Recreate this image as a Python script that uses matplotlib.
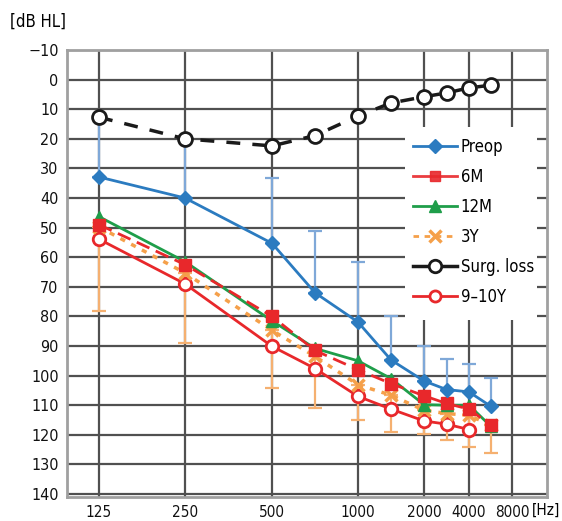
import numpy as np
import matplotlib
matplotlib.use("Agg")
import matplotlib.pyplot as plt
from matplotlib.lines import Line2D
from matplotlib.patches import Rectangle

plt.rcParams['font.family'] = ['DejaVu Sans']
plt.rcParams['font.stretch'] = 'condensed'

# frequencies (Hz)
freq = [125, 250, 500, 750, 1000, 1500, 2000, 3000, 4000, 6000]
tick_freq = [125, 250, 500, 1000, 2000, 4000, 8000]
tick_lab = ["125", "250", "500", "1000", "2000", "4000", "8000"]

# hearing levels (dB HL)
preop = [32.9, 40, 55.3, 72, 81.9, 94.7, 101.8, 104.7, 105.5, 110.3]
preop_top = [13, 20, 33.2, 51.3, 61.5, 79.9, 90.1, 94.5, 96, 100.8]
m6 = [49, 62.5, 80, 91.5, 98, 102.7, 106.8, 109.4, 111.3, 116.7]
m12 = [46.3, 61.5, 81.5, 90.8, 95, 101, 109.8, 110, 110, 117]
y3 = [49.8, 65.3, 84.7, 93.5, 103.1, 106.6, 111.7, 112.8, 113.4, 116.7]
y3_bot = [78.2, 88.9, 104.1, 110.9, 115, 119, 119.7, 121.8, 124, 126.3]
surg = [12.7, 20, 22.4, 18.9, 12.3, 7.9, 5.8, 4.5, 2.8, 1.9]
y910 = [53.9, 69, 90.1, 97.6, 107, 111.3, 115.3, 116.4, 118.2, np.nan]

# x scale: piecewise linear between audiogram frequencies
anc_f = [100, 125, 250, 500, 1000, 2000, 4000, 8000, 9500]
anc_p = [67, 99, 185, 272, 358, 424, 469, 512, 547]
def fwd(f):
    return np.interp(f, anc_f, anc_p)
def inv(p):
    return np.interp(p, anc_p, anc_f)

fig = plt.figure(figsize=(5.62, 5.21), dpi=100)
ax = fig.add_axes([67/562, 1-497/521, 480/562, 447/521])
ax.set_xscale('function', functions=(fwd, inv))
ax.set_xlim(100, 9500)
ax.set_ylim(141, -10)

ax.set_yticks(np.arange(-10, 141, 10))
ax.set_yticklabels([str(v).replace('-', '\u2212') for v in range(-10, 141, 10)])
ax.set_xticks(tick_freq)
ax.set_xticklabels(tick_lab)
ax.xaxis.set_minor_locator(matplotlib.ticker.NullLocator())
ax.tick_params(length=0, labelsize=11.5, pad=6, colors='#111111')
ax.tick_params(axis='x', labelsize=11)
ax.grid(True, color='#505050', lw=1.6)
ax.set_axisbelow(True)
for s in ax.spines.values():
    s.set_color('#a0a0a0')
    s.set_linewidth(2)

# white legend area
ax.add_patch(Rectangle((0.704, 0.396), 0.275, 0.432, transform=ax.transAxes,
                       facecolor='white', edgecolor='none', zorder=1))

fr = np.array(freq)
pre = np.array(preop)
ax.errorbar(fr, pre, yerr=[pre - np.array(preop_top), np.zeros(len(fr))],
            fmt='none', ecolor='#7fa8d8', elinewidth=1.6, capsize=5, capthick=1.6, zorder=2)
y3a = np.array(y3)
ax.errorbar(fr, y3a, yerr=[np.zeros(len(fr)), np.array(y3_bot) - y3a],
            fmt='none', ecolor='#f5b070', elinewidth=1.6, capsize=5, capthick=1.6, zorder=2)

ax.plot(freq, y910, color='#e8282b', lw=2, marker='o', ms=9, mfc='white',
        mec='#e8282b', mew=2, zorder=3)
ax.plot(freq, y3, color='#f5a04a', lw=2.5, ls=(0, (1.5, 2)), marker='x', ms=8,
        mew=2.5, zorder=4)
ax.plot(freq, m12, color='#1f9e4a', lw=2, marker='^', ms=8.5, zorder=5)
ax.plot(freq, m6, color='#e8282b', lw=2, ls=(0, (5, 2.5)), marker='s', ms=8, zorder=6)
ax.plot(freq, preop, color='#2b7bc0', lw=2, marker='D', ms=7.5, zorder=7)
ax.plot(freq, surg, color='#1a1a1a', lw=2.5, ls=(0, (4, 3.5)), marker='o', ms=10,
        mfc='white', mec='#1a1a1a', mew=2, zorder=8)

handles = [
    Line2D([], [], color='#2b7bc0', lw=2, marker='D', ms=7.5),
    Line2D([], [], color='#e8282b', lw=2, marker='s', ms=7.5, alpha=0.9),
    Line2D([], [], color='#1f9e4a', lw=2, marker='^', ms=8.5),
    Line2D([], [], color='#f5a04a', lw=2, ls=(0, (2, 2)), marker='x', ms=8, mew=2.5),
    Line2D([], [], color='#1a1a1a', lw=2.5, marker='o', ms=9, mfc='white', mew=2),
    Line2D([], [], color='#e8282b', lw=2, marker='o', ms=8, mfc='white', mew=2),
]
labels = ["Preop", "6M", "12M", "3Y", "Surg. loss", "9\u201310Y"]
leg = ax.legend(handles, labels, loc='upper left', bbox_to_anchor=(0.704, 0.822),
                frameon=False, fontsize=12, handlelength=2.6, handletextpad=0.25,
                labelspacing=0.72, borderpad=0.5, borderaxespad=0)
leg.set_zorder(10)

fig.text(10/562, 1-22/521, "[dB HL]", fontsize=12, va='center', ha='left')
fig.text(560/562, 1-510/521, "[Hz]", fontsize=11, va='center', ha='right')

fig.savefig("out.png", dpi=100)
